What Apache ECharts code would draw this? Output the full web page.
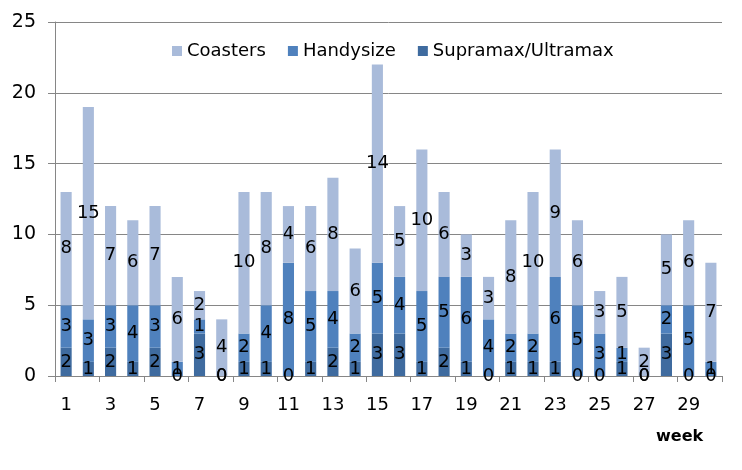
<!DOCTYPE html>
<html>
<head>
<meta charset="utf-8">
<script src="https://cdn.jsdelivr.net/npm/echarts@6/dist/echarts.min.js"></script>
<style>
  html, body { margin: 0; padding: 0; background: #fff; }
  #chart { width: 742px; height: 470px; }
</style>
</head>
<body>
<div id="chart"></div>
<script>
var weeks = [];
for (var w = 1; w <= 30; w++) { weeks.push(String(w)); }

var supramax  = [2, 1, 2, 1, 2, 0, 3, 0, 1, 1, 0, 1, 2, 1, 3, 3, 1, 2, 1, 0, 1, 1, 1, 0, 0, 1, 0, 3, 0, 0];
var handysize = [3, 3, 3, 4, 3, 1, 1, 0, 2, 4, 8, 5, 4, 2, 5, 4, 5, 5, 6, 4, 2, 2, 6, 5, 3, 1, 0, 2, 5, 1];
var coasters  = [8, 15, 7, 6, 7, 6, 2, 4, 10, 8, 4, 6, 8, 6, 14, 5, 10, 6, 3, 3, 8, 10, 9, 6, 3, 5, 2, 5, 6, 7];

var yTicks = { min: 0, max: 25, step: 5 };

var chart = echarts.init(document.getElementById('chart'));

var font = 'DejaVu Sans';
var labelStyle = {
    show: true,
    position: 'inside',
    color: '#000',
    fontFamily: font,
    fontSize: 18
};

function barSeries(name, data, color) {
    return {
        name: name,
        type: 'bar',
        stack: 'total',
        barWidth: '50%',
        data: data,
        itemStyle: { color: color },
        label: labelStyle
    };
}

var option = {
    animation: false,
    backgroundColor: '#fff',
    grid: { left: 55, right: 20, top: 22, bottom: 94 },
    legend: {
        data: ['Coasters', 'Handysize', 'Supramax/Ultramax'],
        left: 167,
        top: 37,
        icon: 'rect',
        itemWidth: 10,
        itemHeight: 10,
        itemGap: 22,
        textStyle: { fontFamily: font, fontSize: 18, color: '#000' }
    },
    xAxis: {
        type: 'category',
        data: weeks,
        axisLine: { lineStyle: { color: '#868686' } },
        axisTick: { show: true, length: 6, lineStyle: { color: '#868686' } },
        axisLabel: {
            interval: 1,
            margin: 20,
            color: '#000',
            fontFamily: font,
            fontSize: 18
        }
    },
    yAxis: {
        type: 'value',
        min: yTicks.min,
        max: yTicks.max,
        interval: yTicks.step,
        axisLine: { show: true, lineStyle: { color: '#868686' } },
        axisTick: { show: true, length: 7, lineStyle: { color: '#868686' } },
        splitLine: { lineStyle: { color: '#868686' } },
        axisLabel: {
            margin: 19,
            color: '#000',
            fontFamily: font,
            fontSize: 19
        }
    },
    graphic: [{
        type: 'text',
        left: 656,
        top: 429,
        style: { text: 'week', fontFamily: font, fontSize: 16, fontWeight: 'bold', fill: '#000' }
    }],
    series: [
        barSeries('Supramax/Ultramax', supramax, '#3f6b9f'),
        barSeries('Handysize', handysize, '#4f81bd'),
        barSeries('Coasters', coasters, '#a9bbda')
    ]
};

chart.setOption(option);
</script>
</body>
</html>
